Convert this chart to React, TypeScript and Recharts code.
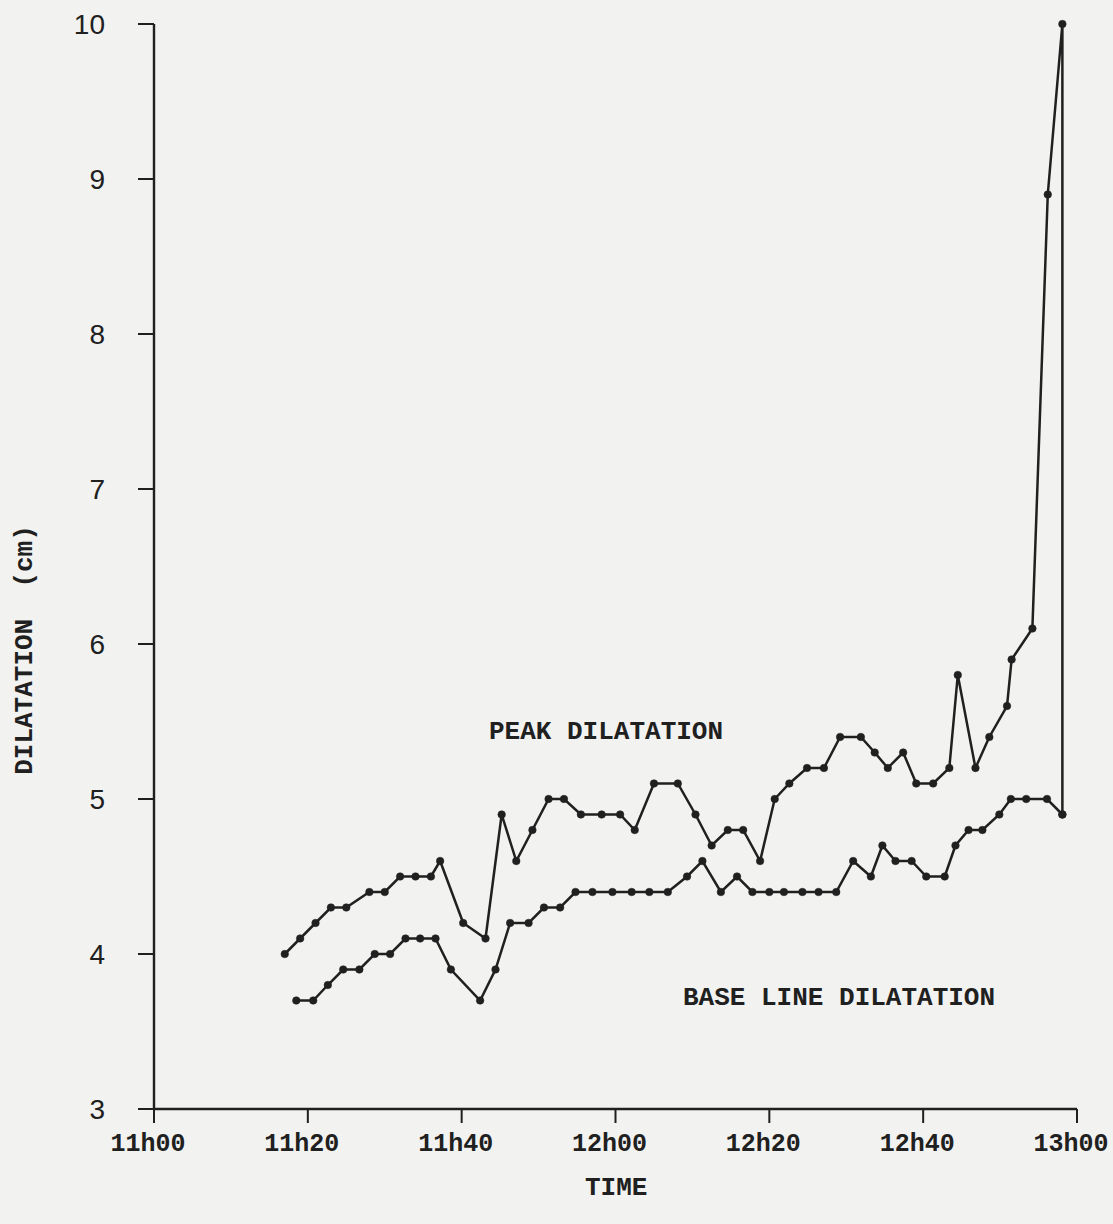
import React from 'react';
import { LineChart, Line, XAxis, YAxis } from 'recharts';

// minutes after 11h00
const peakTime = [17, 19, 21, 23, 25, 28, 30, 32, 34, 36, 37.2, 40.2, 43.1, 45.2, 47.1, 49.2, 51.3, 53.3, 55.5, 58.2, 60.6, 62.5, 65, 68.1, 70.4, 72.5, 74.6, 76.6, 78.8, 80.7, 82.6, 84.9, 87.1, 89.2, 91.9, 93.7, 95.4, 97.4, 99.1, 101.3, 103.4, 104.5, 106.8, 108.6, 110.9, 111.5, 114.2, 116.2, 118.1, 118.1];
const peakValue = [4.0, 4.1, 4.2, 4.3, 4.3, 4.4, 4.4, 4.5, 4.5, 4.5, 4.6, 4.2, 4.1, 4.9, 4.6, 4.8, 5.0, 5.0, 4.9, 4.9, 4.9, 4.8, 5.1, 5.1, 4.9, 4.7, 4.8, 4.8, 4.6, 5.0, 5.1, 5.2, 5.2, 5.4, 5.4, 5.3, 5.2, 5.3, 5.1, 5.1, 5.2, 5.8, 5.2, 5.4, 5.6, 5.9, 6.1, 8.9, 10.0, 4.9];

const baseTime = [18.5, 20.7, 22.6, 24.6, 26.7, 28.7, 30.7, 32.7, 34.6, 36.6, 38.6, 42.4, 44.4, 46.3, 48.7, 50.7, 52.8, 54.8, 57, 59.6, 62.1, 64.4, 66.8, 69.3, 71.3, 73.7, 75.8, 77.8, 80, 81.9, 84.3, 86.4, 88.7, 90.9, 93.2, 94.7, 96.4, 98.5, 100.4, 102.8, 104.2, 105.9, 107.7, 109.9, 111.4, 113.4, 116.1, 118.1];
const baseValue = [3.7, 3.7, 3.8, 3.9, 3.9, 4.0, 4.0, 4.1, 4.1, 4.1, 3.9, 3.7, 3.9, 4.2, 4.2, 4.3, 4.3, 4.4, 4.4, 4.4, 4.4, 4.4, 4.4, 4.5, 4.6, 4.4, 4.5, 4.4, 4.4, 4.4, 4.4, 4.4, 4.4, 4.6, 4.5, 4.7, 4.6, 4.6, 4.5, 4.5, 4.7, 4.8, 4.8, 4.9, 5.0, 5.0, 5.0, 4.9];

const xTicks = [0, 20, 40, 60, 80, 100, 120];
const xTickLabels = ['11h00', '11h20', '11h40', '12h00', '12h20', '12h40', '13h00'];
const yTicks = [3, 4, 5, 6, 7, 8, 9, 10];

const peakData = peakTime.map((t, i) => ({ t, v: peakValue[i] }));
const baseData = baseTime.map((t, i) => ({ t, v: baseValue[i] }));

const INK = '#202020';
const MONO = '"Liberation Mono", "Courier New", monospace';

const textStyle: React.CSSProperties = {
  position: 'absolute',
  fontFamily: MONO,
  fontWeight: 'bold',
  fontSize: 26,
  color: INK,
  whiteSpace: 'pre',
  lineHeight: 1,
};

export default function App() {
  return (
    <div style={{ position: 'absolute', left: 0, top: 0, width: 1113, height: 1224, background: '#f2f2f0', overflow: 'hidden' }}>
      <LineChart
        width={1113}
        height={1224}
        margin={{ top: 24, right: 36, bottom: 55, left: 0 }}
      >
        <XAxis
          dataKey="t"
          type="number"
          domain={[0, 120]}
          ticks={xTicks}
          interval={0}
          height={60}
          tickSize={14}
          tickMargin={10}
          tickFormatter={(v: number) => xTickLabels[xTicks.indexOf(v)] ?? ''}
          axisLine={{ stroke: INK, strokeWidth: 2.4 }}
          tickLine={{ stroke: INK, strokeWidth: 2 }}
          tick={{ fontFamily: MONO, fontWeight: 'bold', fontSize: 25, fill: INK, dx: -6 }}
        />
        <YAxis
          type="number"
          domain={[3, 10]}
          ticks={yTicks}
          interval={0}
          width={154}
          tickSize={16}
          tickMargin={33}
          axisLine={{ stroke: INK, strokeWidth: 2.4 }}
          tickLine={{ stroke: INK, strokeWidth: 2 }}
          tick={{ fontFamily: '"Liberation Sans", Arial, sans-serif', fontSize: 28, fill: INK }}
        />
        <Line
          data={peakData}
          dataKey="v"
          type="linear"
          stroke={INK}
          strokeWidth={2.5}
          dot={{ r: 3.8, fill: INK, stroke: INK, strokeWidth: 0.5 }}
          activeDot={false}
          isAnimationActive={false}
        />
        <Line
          data={baseData}
          dataKey="v"
          type="linear"
          stroke={INK}
          strokeWidth={2.5}
          dot={{ r: 3.8, fill: INK, stroke: INK, strokeWidth: 0.5 }}
          activeDot={false}
          isAnimationActive={false}
        />
      </LineChart>
      <div style={{ ...textStyle, left: 489, top: 719 }}>PEAK DILATATION</div>
      <div style={{ ...textStyle, left: 683, top: 985 }}>BASE LINE DILATATION</div>
      <div style={{ ...textStyle, left: 585, top: 1175 }}>TIME</div>
      <div
        style={{
          ...textStyle,
          left: 25,
          top: 650,
          transform: 'translate(-50%, -50%) rotate(-90deg)',
        }}
      >
        DILATATION  (cm)
      </div>
    </div>
  );
}
